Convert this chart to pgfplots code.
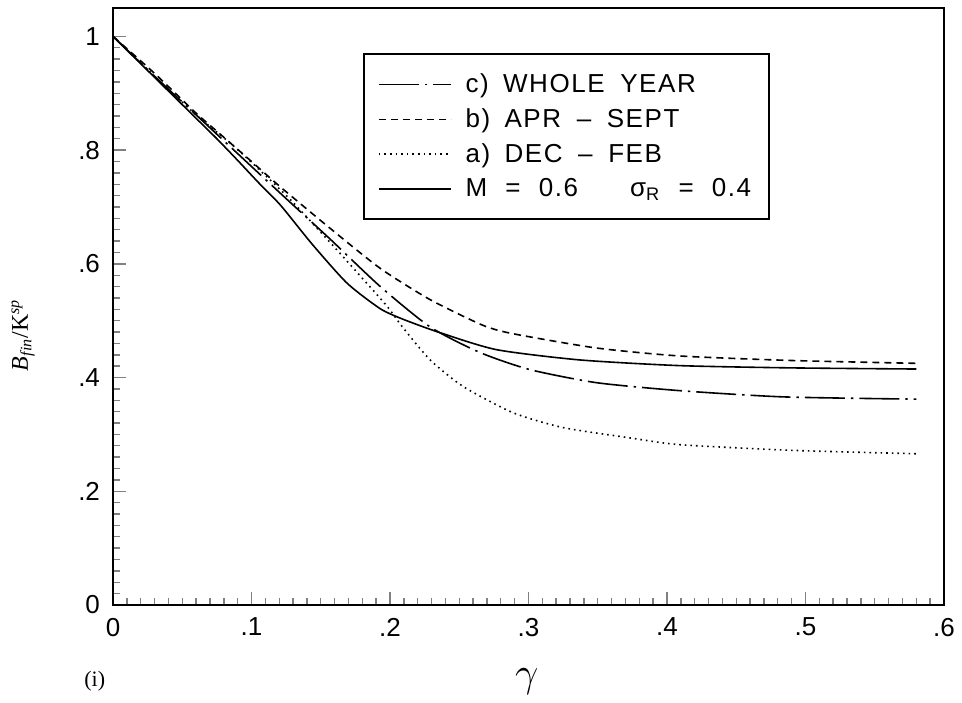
\documentclass[border=0pt]{standalone}
\usepackage{fontspec}
\setmainfont{Liberation Sans}
\newfontfamily\timesf{Liberation Serif}
\newfontfamily\legf[LetterSpace=6]{Liberation Sans}
\usepackage{pgfplots}
\pgfplotsset{compat=1.18}
\begin{document}
\begin{tikzpicture}
\begin{axis}[
  scale only axis, width=415.5pt, height=298.5pt,
  xmin=0, xmax=0.6, ymin=0, ymax=1.05,
  clip=false,
  axis line style={line width=0.9pt},
  xtick={0,0.1,0.2,0.3,0.4,0.5,0.6},
  xticklabels={0,.1,.2,.3,.4,.5,.6},
  ytick={0,0.2,0.4,0.6,0.8,1},
  yticklabels={0,.2,.4,.6,.8,1},
  minor x tick num=9, minor y tick num=9,
  tick pos=left, tick align=inside,
  major tick length=6.5pt, minor tick length=3.5pt,
  tick style={line width=0.7pt},
  /pgf/number format/assume math mode=true,
  ticklabel style={font=\fontsize{13}{15}\selectfont},
  xticklabel style={yshift=-3pt},
  yticklabel style={xshift=-3pt},
  legend style={at={(rel axis cs:0.301,0.925)}, anchor=north west,
    draw=black, line width=0.9pt, inner xsep=7pt, inner ysep=8pt,
    row sep=2.5pt, font=\legf\fontsize{13}{15}\selectfont,
    cells={anchor=west}},
  legend cell align=left,
  legend image code/.code={\draw[#1, line width=0.8pt] (0pt,0pt) -- (36pt,0pt); \path (41pt,0pt);},
  every axis plot/.append style={smooth, tension=0.4},
]
\addplot[black, line width=0.8pt, dash pattern=on 20pt off 3pt on 1.2pt off 3pt] coordinates {
(0,1) (0.03,0.93) (0.06,0.862) (0.097,0.778) (0.128,0.708) (0.157,0.643) (0.193,0.56) (0.229,0.489) (0.265,0.444) (0.301,0.414) (0.349,0.391) (0.409,0.377) (0.484,0.366) (0.58,0.362)};
\addlegendentry{c)\hspace{0.55em}WHOLE\hspace{0.6em}YEAR}
\addplot[black, line width=0.8pt, dash pattern=on 3.5pt off 2.5pt] coordinates {
(0,1) (0.03,0.935) (0.06,0.865) (0.077,0.829) (0.1,0.78) (0.121,0.735) (0.157,0.662) (0.193,0.592) (0.229,0.537) (0.267,0.492) (0.289,0.477) (0.349,0.452) (0.409,0.438) (0.49,0.43) (0.58,0.425)};
\addlegendentry{b)\hspace{0.55em}APR\hspace{0.6em}–\hspace{0.6em}SEPT}
\addplot[black, line width=0.8pt, dash pattern=on 0.8pt off 2pt] coordinates {
(0,1) (0.03,0.93) (0.06,0.862) (0.09,0.801) (0.126,0.718) (0.157,0.637) (0.181,0.572) (0.198,0.525) (0.209,0.489) (0.229,0.431) (0.253,0.384) (0.289,0.338) (0.325,0.312) (0.373,0.294) (0.409,0.282) (0.49,0.272) (0.58,0.266)};
\addlegendentry{a)\hspace{0.55em}DEC\hspace{0.6em}–\hspace{0.6em}FEB}
\addplot[black, line width=0.8pt] coordinates {
(0,1) (0.03,0.928) (0.06,0.856) (0.075,0.82) (0.09,0.782) (0.105,0.743) (0.121,0.703) (0.144,0.634) (0.169,0.566) (0.193,0.521) (0.21,0.502) (0.236,0.479) (0.277,0.449) (0.337,0.431) (0.409,0.421) (0.49,0.417) (0.58,0.415)};
\addlegendentry{M\hspace{0.7em}=\hspace{0.7em}0.6\hspace{2em}σ\textsubscript{R}\hspace{0.7em}=\hspace{0.7em}0.4}
\node[rotate=90] at (axis description cs:-0.108,0.452) {\timesf\fontsize{12}{14}\selectfont\textit{B}\textsubscript{\textit{fin}}/K\textsuperscript{\textit{sp}}};
\node at (axis description cs:0.498,-0.129) {\fontsize{20}{24}\selectfont$\gamma$};
\node at (axis description cs:-0.022,-0.127) {\timesf\fontsize{11}{13}\selectfont(i)};
\path (axis description cs:-0.136,-0.164) rectangle (axis description cs:1.0217,1.0134);
\end{axis}
\end{tikzpicture}
\end{document}
